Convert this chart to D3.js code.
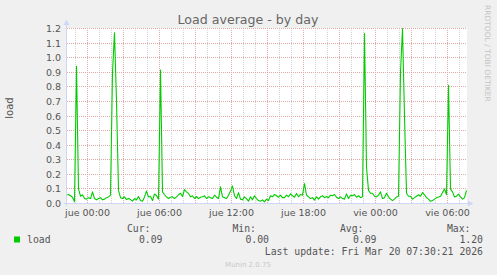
<!DOCTYPE html>
<html><head><meta charset="utf-8">
<script src="https://cdn.jsdelivr.net/npm/d3@7"></script>
<style>html,body{margin:0;padding:0;background:#F0F0F0;overflow:hidden}</style>
</head><body><svg id="c" width="497" height="275"></svg>
<script>
const chartTitle = "Load average - by day";
const yAxisLabel = "load";
const seriesName = "load";
const yTickValues = [0.0,0.1,0.2,0.3,0.4,0.5,0.6,0.7,0.8,0.9,1.0,1.1,1.2];
const domainStart = Date.UTC(2026,2,18,22,17,30);
const domainEnd = Date.UTC(2026,2,20,7,37,30);
const dataStart = Date.UTC(2026,2,18,22,15,0);
const stepMinutes = 10;
const loadValues = [
0.057,0.062,0.053,0.043,0.012,0.94,0.10,0.05,0.06,0.034,
0.03,0.04,0.034,0.08,0.034,0.025,0.034,0.04,0.025,0.03,
0.04,0.045,0.057,0.90,1.17,0.70,0.09,0.04,0.034,0.045,
0.027,0.034,0.027,0.016,0.034,0.025,0.048,0.02,0.016,0.045,
0.085,0.045,0.048,0.02,0.065,0.055,0.03,0.915,0.08,0.06,
0.045,0.034,0.043,0.046,0.034,0.045,0.06,0.07,0.048,0.096,
0.08,0.069,0.046,0.053,0.034,0.048,0.034,0.043,0.046,0.053,
0.034,0.046,0.04,0.034,0.057,0.043,0.034,0.114,0.046,0.04,
0.034,0.057,0.085,0.12,0.053,0.034,0.075,0.03,0.025,0.046,
0.034,0.016,0.046,0.025,0.053,0.034,0.02,0.016,0.025,0.011,
0.03,0.02,0.053,0.046,0.062,0.053,0.043,0.057,0.04,0.04,
0.057,0.046,0.066,0.053,0.043,0.069,0.046,0.062,0.057,0.137,
0.057,0.046,0.034,0.04,0.023,0.046,0.03,0.046,0.053,0.04,
0.048,0.04,0.057,0.053,0.062,0.043,0.034,0.046,0.034,0.03,
0.066,0.034,0.057,0.053,0.062,0.043,0.053,0.04,0.046,1.165,
0.25,0.09,0.07,0.07,0.05,0.045,0.057,0.08,0.034,0.04,
0.07,0.046,0.03,0.02,0.03,0.045,0.05,0.90,1.20,0.60,
0.07,0.05,0.05,0.03,0.04,0.05,0.06,0.05,0.075,0.06,
0.04,0.03,0.015,0.02,0.03,0.04,0.045,0.05,0.075,0.10,
0.06,0.81,0.10,0.08,0.045,0.05,0.065,0.045,0.03,0.04,
0.09
];
const statLabels = ["Cur:","Min:","Avg:","Max:"];
const statValues = ["0.09","0.00","0.09","1.20"];
const lastUpdate = "Last update: Fri Mar 20 07:30:21 2026";
const versionText = "Munin 2.0.75";
const watermark = "RRDTOOL / TOBI OETIKER";

const es = d3.timeFormatLocale({
  dateTime:"%A, %e de %B de %Y, %X", date:"%d/%m/%Y", time:"%H:%M:%S", periods:["AM","PM"],
  days:["domingo","lunes","martes","miércoles","jueves","viernes","sábado"],
  shortDays:["dom","lun","mar","mié","jue","vie","sáb"],
  months:["enero","febrero","marzo","abril","mayo","junio","julio","agosto","septiembre","octubre","noviembre","diciembre"],
  shortMonths:["ene","feb","mar","abr","may","jun","jul","ago","sep","oct","nov","dic"]
});
const fmt = es.utcFormat("%a %H:%M");

const W=497,H=275,L=67,R=467,T=28.5,B=203.5;
const x = d3.scaleUtc().domain([new Date(domainStart),new Date(domainEnd)]).range([L,R]);
const y = d3.scaleLinear().domain([0,1.2]).range([B,T]);
const crisp = v => Math.floor(v)+0.5;
const svg = d3.select("#c");
const FONT = "DejaVu Sans", MONO = "DejaVu Sans Mono", TXT = "#555";

svg.append("rect").attr("width",W).attr("height",H).attr("fill","#F0F0F0");
svg.append("rect").attr("x",L).attr("y",28).attr("width",R-L).attr("height",B-28).attr("fill","#fff");

// vertical grid
const g = svg.append("g");
x.ticks(d3.utcHour.every(1)).forEach(t=>{
  const major = t.getUTCHours()%3===0;
  const xx = crisp(x(t));
  g.append("line").attr("x1",xx).attr("x2",xx).attr("y1",28).attr("y2",B)
    .attr("stroke",major?"#e3a8a8":"#d2d2d2").attr("stroke-width",1).attr("stroke-dasharray","1,1");
});
// horizontal grid
yTickValues.forEach(v=>{
  const yy = crisp(y(v));
  g.append("line").attr("x1",L).attr("x2",R).attr("y1",yy).attr("y2",yy)
    .attr("stroke","#e3a8a8").attr("stroke-width",1).attr("stroke-dasharray","1,1");
});

// y tick labels
svg.append("g").selectAll("text").data(yTickValues).join("text")
  .attr("x",61).attr("y",v=>crisp(y(v))+3.5).attr("text-anchor","end")
  .attr("font-family",FONT).attr("font-size","9.5px").attr("fill",TXT)
  .text(v=>d3.format(".1f")(v));

// x tick labels
svg.append("g").selectAll("text").data(x.ticks(d3.utcHour.every(6))).join("text")
  .attr("x",t=>crisp(x(t))).attr("y",216).attr("text-anchor","middle")
  .attr("font-family",FONT).attr("font-size","9.5px").attr("fill",TXT)
  .text(t=>fmt(t));

// data line
svg.append("clipPath").attr("id","clip").append("rect").attr("x",L).attr("y",20).attr("width",R-L).attr("height",B-20+1);
const line = d3.line().x((d,i)=>x(new Date(dataStart+i*stepMinutes*60000))).y(d=>y(d));
svg.append("path").datum(loadValues).attr("clip-path","url(#clip)")
  .attr("d",line).attr("fill","none").attr("stroke","#00CC00").attr("stroke-width",1.1)
  .attr("stroke-linejoin","round");

// axes
const AX="#CFD6F8";
svg.append("line").attr("x1",66.5).attr("x2",66.5).attr("y1",206).attr("y2",24).attr("stroke",AX);
svg.append("line").attr("x1",64).attr("x2",469).attr("y1",203.5).attr("y2",203.5).attr("stroke",AX);
svg.append("path").attr("d","M63.5,25 L69.5,25 L66.5,19.5 Z").attr("fill",AX);
svg.append("path").attr("d","M468,200.5 L468,206.5 L473.5,203.5 Z").attr("fill",AX);

// title
svg.append("text").attr("x",248).attr("y",24).attr("text-anchor","middle")
  .attr("font-family",FONT).attr("font-size","12.6px").attr("fill","#666").text(chartTitle);
// y label
svg.append("text").attr("transform","translate(13,108) rotate(-90)").attr("text-anchor","middle")
  .attr("font-family",FONT).attr("font-size","10px").attr("fill",TXT).text(yAxisLabel);
// watermark
svg.append("text").attr("transform","translate(484.5,5) rotate(90)").attr("text-anchor","start")
  .attr("font-family",FONT).attr("font-size","7.5px").attr("fill","#c4c4c4").text(watermark);

// legend
svg.append("rect").attr("x",14).attr("y",236.5).attr("width",6).attr("height",6).attr("fill","#00CC00");
const mono = (t,xx,yy,anchor)=>svg.append("text").attr("x",xx).attr("y",yy).attr("text-anchor",anchor)
  .attr("font-family",MONO).attr("font-size","9.8px").attr("fill",TXT).attr("xml:space","preserve").text(t);
mono(seriesName,27,243,"start");
const labelEnds=[150.5,256,363.5,470.5], valueEnds=[162.5,269,376.5,483];
statLabels.forEach((s,i)=>mono(s,labelEnds[i],231.5,"end"));
statValues.forEach((s,i)=>mono(s,valueEnds[i],243,"end"));
mono(lastUpdate,483,255,"end");
svg.append("text").attr("x",248).attr("y",267).attr("text-anchor","middle")
  .attr("font-family",FONT).attr("font-size","7px").attr("fill","#c8c8c8").text(versionText);
</script></body></html>
